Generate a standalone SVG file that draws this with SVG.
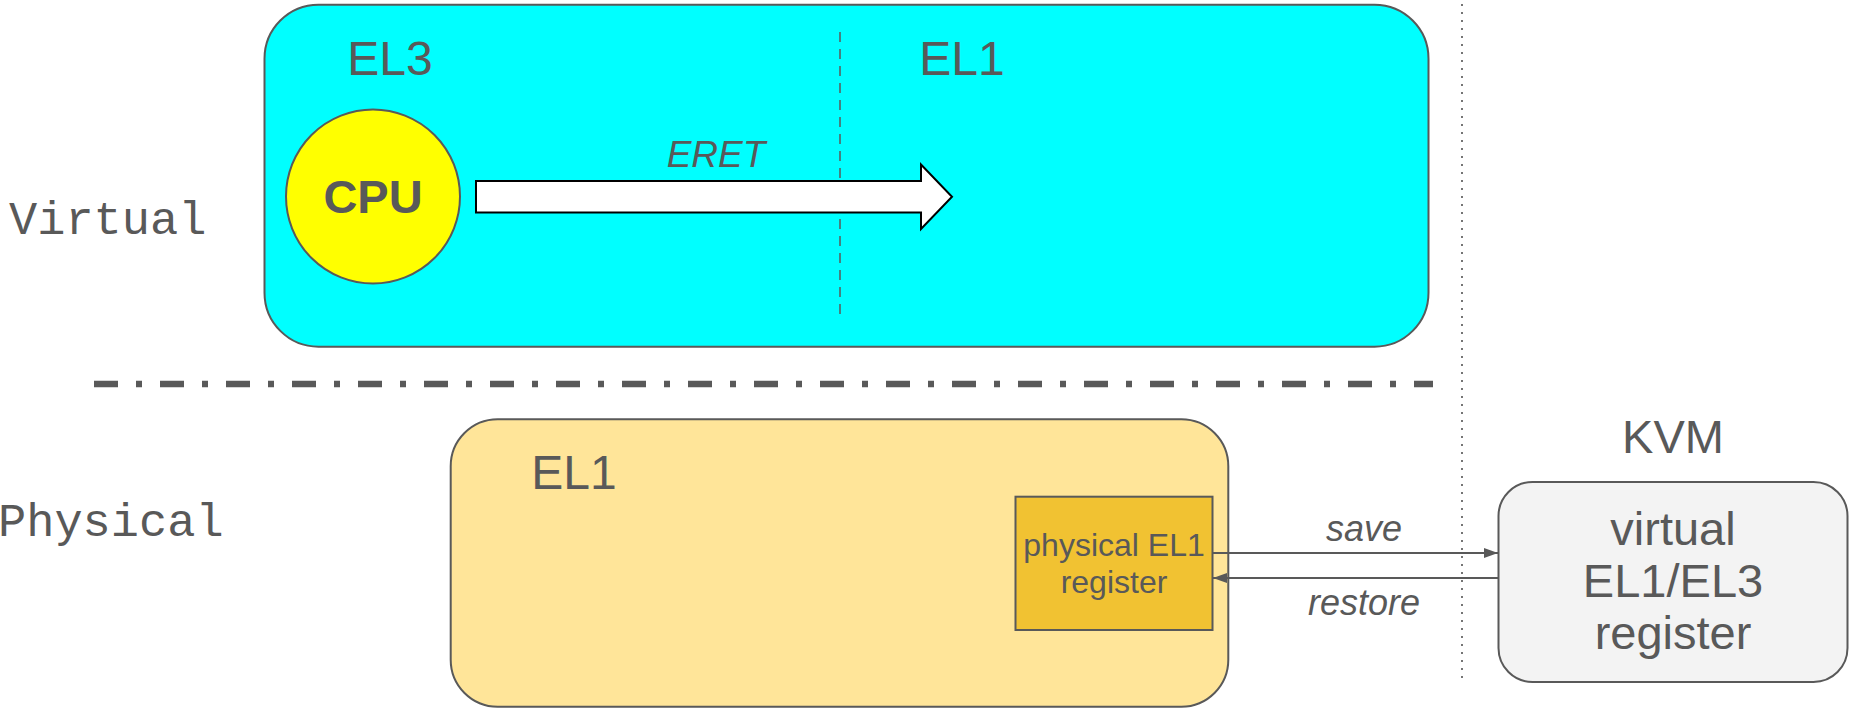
<svg xmlns="http://www.w3.org/2000/svg" width="1852" height="711" viewBox="0 0 1852 711">
  <style>
    .lbl { font-family: "Liberation Sans", Arial, sans-serif; fill: #595959; }
    .mono { font-family: "Liberation Mono", "Courier New", monospace; fill: #595959; font-size: 47px; }
    .big { font-size: 48px; }
    .box { stroke: #595959; stroke-width: 2; }
    .conn { stroke: #595959; stroke-width: 2.2; fill: none; }
  </style>
  <defs>
    <marker id="head" viewBox="0 0 14 10" refX="14" refY="5" markerWidth="14" markerHeight="10" markerUnits="userSpaceOnUse" orient="auto">
      <path d="M0,0 L14,5 L0,10 Z" fill="#595959"/>
    </marker>
  </defs>
  <rect width="1852" height="711" fill="#ffffff"/>

  <!-- row labels -->
  <text class="mono" x="9" y="234">Virtual</text>
  <text class="mono" x="-2" y="536">Physical</text>

  <!-- boundary between the virtual and physical rows -->
  <line x1="94" y1="384" x2="1433" y2="384" stroke="#595959" stroke-width="6.5" stroke-dasharray="24 18 6 18"/>
  <!-- guest / host boundary -->
  <line x1="1462" y1="4" x2="1462" y2="679" stroke="#666666" stroke-width="1.8" stroke-dasharray="2 6"/>

  <!-- virtual execution levels -->
  <g id="virtual-el">
    <rect class="box" x="264.5" y="4.7" width="1164" height="342" rx="54" ry="54" fill="#00ffff"/>
    <text class="lbl big" x="390" y="75" text-anchor="middle">EL3</text>
    <text class="lbl big" x="962" y="75" text-anchor="middle">EL1</text>
    <line x1="840" y1="32" x2="840" y2="320" stroke="#595959" stroke-width="1.5" stroke-dasharray="10 7"/>
  </g>

  <g id="cpu">
    <circle class="box" cx="373" cy="196.5" r="87" fill="#ffff00"/>
    <text class="lbl" x="373" y="213" text-anchor="middle" font-size="47" font-weight="bold">CPU</text>
  </g>

  <g id="eret">
    <path d="M476,181 L921,181 L921,164.5 L952,196.7 L921,229 L921,212.4 L476,212.4 Z" fill="#ffffff" stroke="#000000" stroke-width="2"/>
    <text class="lbl" x="716" y="167" text-anchor="middle" font-size="37" font-style="italic">ERET</text>
  </g>

  <!-- physical EL1 -->
  <g id="physical-el1">
    <rect class="box" x="450.7" y="419.3" width="777.6" height="287.4" rx="47" ry="47" fill="#ffe599"/>
    <text class="lbl big" x="574" y="489" text-anchor="middle">EL1</text>
  </g>

  <g id="physical-register">
    <rect class="box" x="1015.5" y="496.7" width="197" height="133.3" fill="#f1c232"/>
    <text class="lbl" x="1114" y="556" text-anchor="middle" font-size="32">physical EL1</text>
    <text class="lbl" x="1114" y="593" text-anchor="middle" font-size="32">register</text>
  </g>

  <!-- KVM -->
  <g id="kvm">
    <text class="lbl" x="1673" y="453" text-anchor="middle" font-size="47">KVM</text>
    <rect class="box" x="1498.5" y="482" width="349" height="200" rx="34" ry="34" fill="#f3f3f3"/>
    <text class="lbl" x="1673" y="545" text-anchor="middle" font-size="47">virtual</text>
    <text class="lbl" x="1673" y="597" text-anchor="middle" font-size="47">EL1/EL3</text>
    <text class="lbl" x="1673" y="649" text-anchor="middle" font-size="47">register</text>
  </g>

  <!-- save / restore transfers -->
  <g id="connectors">
    <line class="conn" x1="1213" y1="553" x2="1498" y2="553" marker-end="url(#head)"/>
    <line class="conn" x1="1498" y1="578" x2="1213" y2="578" marker-end="url(#head)"/>
    <text class="lbl" x="1364" y="541" text-anchor="middle" font-size="36" font-style="italic">save</text>
    <text class="lbl" x="1364" y="615" text-anchor="middle" font-size="36" font-style="italic">restore</text>
  </g>
</svg>
